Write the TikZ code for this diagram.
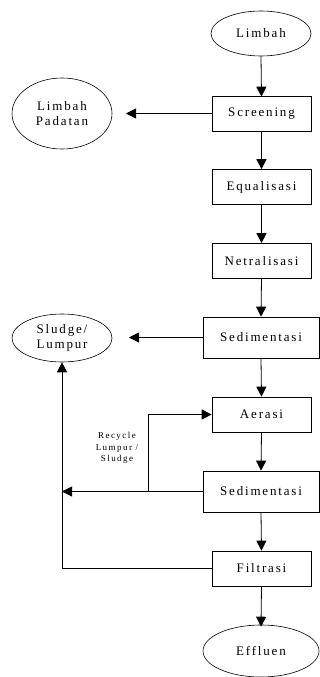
\documentclass[tikz,border=0pt]{standalone}
\usepackage{fontspec}
\setmainfont{Liberation Serif}
\usetikzlibrary{shapes.geometric,arrows.meta}
\newfontfamily\spaced[LetterSpace=14]{Liberation Serif}
\newfontfamily\spacedsmall[LetterSpace=16]{Liberation Serif}
\begin{document}
\begin{tikzpicture}[x=1pt,y=-1pt,
  every node/.style={inner sep=0pt, font=\spaced\fontsize{13}{15}\selectfont},
  proc/.style={draw, line width=0.7pt, rectangle, minimum width=99pt, minimum height=35pt},
  procw/.style={draw, line width=0.7pt, rectangle, minimum width=116pt, minimum height=41pt},
  term/.style={draw, line width=0.6pt, ellipse, align=center},
  flow/.style={line width=0.8pt, -{Triangle[width=10pt,length=10pt]}},
  plain/.style={line width=0.8pt}]
\useasboundingbox (0,0) rectangle (320,677);
\node[term, minimum width=100pt, minimum height=45pt] (limbah) at (261,33.5) {Limbah};
\node[proc] (screen) at (261.5,113.5) {Screening};
\node[term, minimum width=100pt, minimum height=71pt] (padatan) at (62,113.5) {Limbah\\Padatan};
\node[proc] (equal) at (261.5,187) {Equalisasi};
\node[proc] (netral) at (261.5,261) {Netralisasi};
\node[procw] (sed1) at (261,337.5) {Sedimentasi};
\node[term, minimum width=100pt, minimum height=48pt] (sludge) at (62,338) {Sludge/\\Lumpur};
\node[proc] (aerasi) at (261.5,414.5) {Aerasi};
\node[procw] (sed2) at (261,491.5) {Sedimentasi};
\node[proc] (filtrasi) at (261.5,568.5) {Filtrasi};
\node[term, minimum width=116pt, minimum height=52pt] (effluen) at (261,651) {Effluen};
\node[align=center, font=\spacedsmall\fontsize{9}{11.5}\selectfont] (recycle) at (117,448) {Recycle\\Lumpur /\\Sludge};

\coordinate (j) at (148,491.5);
\coordinate (lft) at (62,491.5);
\coordinate (fl) at (62,568.5);

\draw[flow] (limbah.south) -- ([yshift=-1pt]screen.north);
\draw[flow] (screen.west) -- (126,113.5);
\draw[flow] (screen.south) -- (equal.north);
\draw[flow] (equal.south) -- (netral.north);
\draw[flow] (netral.south) -- (sed1.north);
\draw[flow] (sed1.west) -- (129,337.5);
\draw[flow] (sed1.south) -- (aerasi.north);
\draw[flow] (aerasi.south) -- (sed2.north);
\draw[flow] (sed2.south) -- (filtrasi.north);
\draw[flow] (filtrasi.south) -- ([yshift=-2pt]effluen.north);
\draw[flow] (sed2.west) -- (lft);
\draw[flow] (j) |- (aerasi.west);
\draw[plain] (filtrasi.west) -- (fl);
\draw[flow] (fl) -- (sludge.south);
\end{tikzpicture}
\end{document}
